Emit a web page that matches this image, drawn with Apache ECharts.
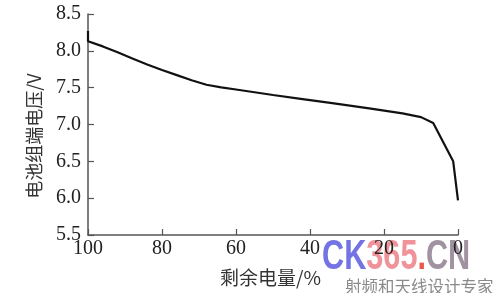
<!DOCTYPE html>
<html>
<head>
<meta charset="utf-8">
<script src="https://cdn.jsdelivr.net/npm/echarts@6/dist/echarts.min.js"></script>
<style>html,body{margin:0;padding:0;background:#fff}#c{width:500px;height:293px}</style>
</head>
<body>
<div id="c"></div>
<script>
var remaining = [100, 100, 96, 92, 88, 84, 80, 76, 72, 68, 64, 60, 50, 42, 34, 24, 15, 10, 6.7, 1.3, 0];
var voltage   = [8.27, 8.13, 8.06, 7.98, 7.895, 7.815, 7.74, 7.67, 7.60, 7.54, 7.505, 7.475, 7.40, 7.345, 7.29, 7.22, 7.15, 7.10, 7.02, 6.50, 5.97];
var xName = '剩余电量/%';
var yName = '电池组端电压/V';

var data = remaining.map(function (r, i) { return [r, voltage[i]]; });
var chart = echarts.init(document.getElementById('c'));
var axisColor = '#555';
var serif = '"Liberation Serif", "DejaVu Serif", serif';
var wmFont = '"Liberation Sans", Arial, sans-serif';
chart.setOption({
  animation: false,
  grid: { left: 88, right: 42, top: 14, bottom: 58 },
  xAxis: {
    type: 'value', inverse: true, min: 0, max: 100, interval: 20,
    axisLine: { onZero: false, lineStyle: { color: axisColor, width: 1.5 } },
    axisTick: { inside: true, length: 6, lineStyle: { color: axisColor, width: 1.2 } },
    axisLabel: { color: '#222', fontFamily: serif, fontSize: 20, margin: 4 },
    splitLine: { show: false }
  },
  yAxis: {
    type: 'value', position: 'left', min: 5.5, max: 8.5, interval: 0.5,
    axisLine: { show: true, onZero: false, lineStyle: { color: axisColor, width: 1.5 } },
    axisTick: { show: true, inside: true, length: 6, lineStyle: { color: axisColor, width: 1.2 } },
    axisLabel: { color: '#222', fontFamily: serif, fontSize: 20, margin: 7,
      formatter: function (v) { return v.toFixed(1); } },
    splitLine: { show: false }
  },
  series: [{
    type: 'line', data: data, showSymbol: false, smooth: false,
    lineStyle: { color: '#111', width: 2.2 }
  }],
  graphic: [
    { type: 'text', left: 220, top: 268,
      style: { text: xName, fontFamily: '"Noto Sans CJK SC", sans-serif', fontSize: 19, fill: '#333' } },
    { type: 'text', x: 34, y: 136, rotation: Math.PI / 2,
      style: { text: yName, fontFamily: '"Noto Sans CJK SC", sans-serif', fontSize: 18, fill: '#333',
        align: 'center', verticalAlign: 'middle' } },
    { type: 'text', x: 322, y: 236, scaleX: 0.73, scaleY: 1,
      style: { rich: {
          a: { fill: 'rgba(80,80,220,0.8)', fontSize: 42, fontWeight: 'bold', fontFamily: wmFont },
          b: { fill: 'rgba(235,110,120,0.75)', fontSize: 42, fontWeight: 'bold', fontFamily: wmFont },
          c: { fill: 'rgba(230,60,40,0.85)', fontSize: 42, fontWeight: 'bold', fontFamily: wmFont },
          d: { fill: 'rgba(120,100,120,0.7)', fontSize: 42, fontWeight: 'bold', fontFamily: wmFont }
        }, text: '{a|CK}{b|365}{c|.}{d|CN}' } },
    { type: 'text', left: 345, top: 278,
      style: { text: '射频和天线设计专家', fontFamily: '"Noto Sans CJK SC", sans-serif', fontSize: 16.5, fill: '#8a8a8a' } }
  ]
});
</script>
</body>
</html>
